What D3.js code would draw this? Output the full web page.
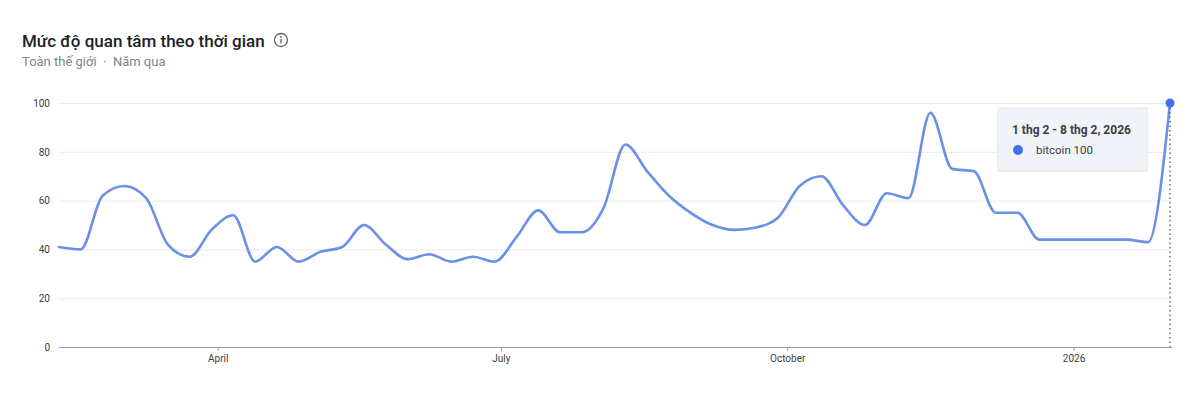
<!DOCTYPE html>
<html>
<head>
<meta charset="utf-8">
<script src="https://cdn.jsdelivr.net/npm/d3@7"></script>
<style>
  html, body { margin: 0; padding: 0; background: #fff; }
  svg { display: block; }
  text { font-family: Roboto, "Noto Sans", sans-serif; }
</style>
</head>
<body>
<svg id="chart" width="1200" height="396"></svg>
<script>
// ---- data ----
const startDate = "2025-02-09";
const weekValues = [41, 40, 62, 66, 61, 42, 37, 48, 54, 35,
                    41, 35, 39, 41, 50, 42, 36, 38, 35, 37,
                    35, 45, 56, 47, 47, 57, 83, 72, 62, 55,
                    50, 48, 49, 53, 66, 70, 58, 50, 63, 61,
                    96, 73, 72, 55, 55, 44, 44, 44, 44, 44,
                    43, 100];
const yTicks = [0, 20, 40, 60, 80, 100];
const xTickDates = ["2025-04-01", "2025-07-01", "2025-10-01", "2026-01-01"];
const xTickLabels = ["April", "July", "October", "2026"];
const titleText = "Mức độ quan tâm theo thời gian";
const subtitleText = "Toàn thế giới  ·  Năm qua";
const tooltipTitle = "1 thg 2 - 8 thg 2, 2026";
const seriesName = "bitcoin";

// ---- build ----
(function () {
const parse = d3.utcParse("%Y-%m-%d");
const t0 = parse(startDate);
const data = weekValues.map((v, i) => ({ date: d3.utcDay.offset(t0, i * 7), value: v }));

const svg = d3.select("#chart");
const mLeft = 59, mRight = 1170, mTop = 103, mBottom = 347;

const x = d3.scaleUtc().domain([data[0].date, data[data.length - 1].date]).range([mLeft, mRight]);
const y = d3.scaleLinear().domain([0, 100]).range([mBottom, mTop]);

// title
svg.append("text").attr("x", 22).attr("y", 47)
  .attr("font-size", 17).attr("font-weight", 500).attr("fill", "#202124")
  .text(titleText);
const info = svg.append("g").attr("transform", "translate(281,40)");
info.append("circle").attr("r", 6.5).attr("fill", "none").attr("stroke", "#5f6368").attr("stroke-width", 1.3);
info.append("circle").attr("cx", 0).attr("cy", -3).attr("r", 0.9).attr("fill", "#5f6368");
info.append("line").attr("x1", 0).attr("x2", 0).attr("y1", -1).attr("y2", 3.5).attr("stroke", "#5f6368").attr("stroke-width", 1.3);
svg.append("text").attr("x", 22).attr("y", 66)
  .attr("font-size", 13).attr("fill", "#80868b").style("white-space", "pre")
  .text(subtitleText);

// grid + y axis
const yAxis = d3.axisLeft(y).tickValues(yTicks).tickSize(-(mRight + 2 - mLeft)).tickPadding(9);
const gy = svg.append("g").attr("transform", `translate(${mLeft},0)`).call(yAxis);
gy.select(".domain").remove();
gy.selectAll(".tick line").attr("stroke", "#ebebeb").attr("stroke-width", 1);
gy.selectAll(".tick text").attr("font-size", 10).attr("fill", "#3c4043")
  .attr("font-family", "Roboto, sans-serif");
gy.selectAll(".tick").filter(d => d === 0).select("line").attr("stroke", "#9aa0a6");

// x axis
const xAxis = d3.axisBottom(x).tickValues(xTickDates.map(parse))
  .tickFormat((d, i) => xTickLabels[i]).tickSize(4).tickPadding(4);
const gx = svg.append("g").attr("transform", `translate(0,${mBottom})`).call(xAxis);
gx.select(".domain").remove();
gx.selectAll(".tick line").attr("stroke", "#9aa0a6");
gx.selectAll(".tick text").attr("font-size", 10).attr("fill", "#3c4043")
  .attr("font-family", "Roboto, sans-serif");

// line
const line = d3.line().x(d => x(d.date)).y(d => y(d.value)).curve(d3.curveMonotoneX);
svg.append("path").datum(data).attr("d", line)
  .attr("fill", "none").attr("stroke", "#6a91e9").attr("stroke-width", 2.6)
  .attr("stroke-linejoin", "round").attr("stroke-linecap", "round");

// hover marker
const last = data[data.length - 1];
svg.append("line").attr("x1", x(last.date)).attr("x2", x(last.date))
  .attr("y1", y(last.value)).attr("y2", mBottom)
  .attr("stroke", "#4a4e52").attr("stroke-width", 1.2).attr("stroke-dasharray", "1.5,3");
svg.append("circle").attr("cx", x(last.date)).attr("cy", y(last.value)).attr("r", 4.5)
  .attr("fill", "#4372e8");

// tooltip
const tt = svg.append("g").attr("transform", "translate(998,108)");
tt.append("rect").attr("width", 149).attr("height", 63)
  .attr("fill", "#f0f3f7").attr("stroke", "#dfe3e8").attr("stroke-width", 1);
tt.append("text").attr("x", 14).attr("y", 26).attr("font-size", 12).attr("font-weight", 700)
  .attr("fill", "#3c4043").text(tooltipTitle);
tt.append("circle").attr("cx", 20).attr("cy", 42).attr("r", 5).attr("fill", "#4372e8");
tt.append("text").attr("x", 38).attr("y", 46).attr("font-size", 11.5)
  .attr("fill", "#3c4043").text(`${seriesName} ${last.value}`);
})();
</script>
</body>
</html>
